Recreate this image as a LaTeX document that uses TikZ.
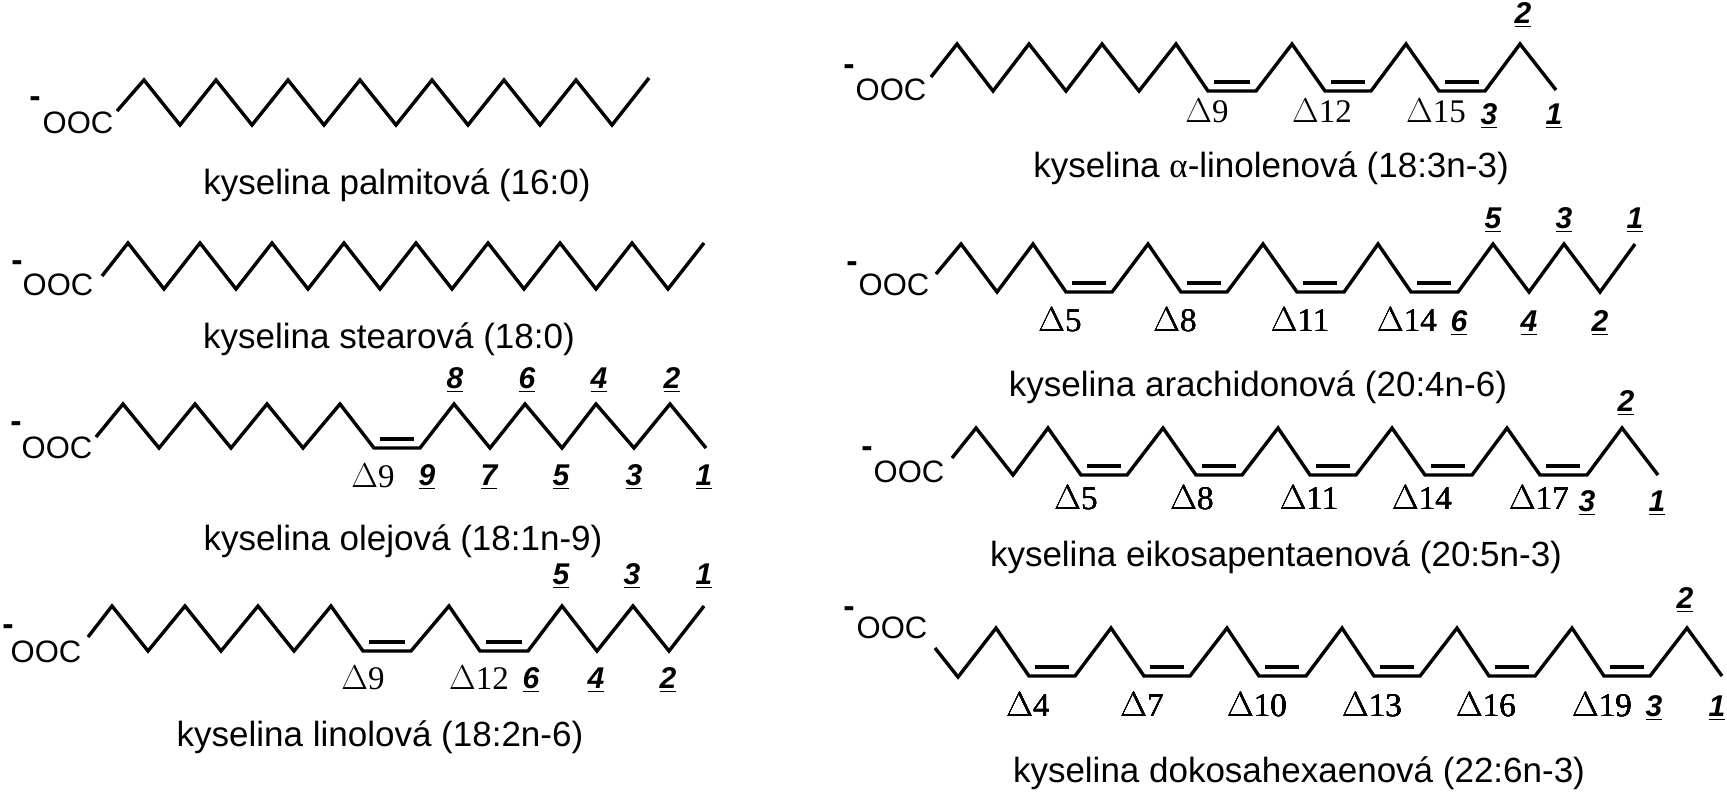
\documentclass[tikz,border=0pt]{standalone}
\usepackage{fontspec}
\setmainfont{Liberation Sans}
\newfontfamily\deltafont{Liberation Serif}
\usepackage{tikz}
\usetikzlibrary{positioning}

\tikzset{
  chain/.style={line width=1.7pt,line join=miter},
  title/.style={font=\fontsize{17.5}{20}\selectfont,inner sep=0pt},
  ooc/.style={font=\fontsize{15.5}{18}\selectfont,inner sep=0pt},
  minus/.style={font=\bfseries\fontsize{17}{18}\selectfont,inner sep=0pt},
  delta/.style={font=\deltafont\fontsize{16.5}{18}\selectfont,inner sep=0pt},
  num/.style={font=\bfseries\itshape\fontsize{15}{16}\selectfont,inner sep=0pt}
}
\newcommand{\dvojna}[3]{\draw[chain] ({#1+6},{#3-9}) -- ({#2-6},{#3-9});}
\newcommand{\cislo}[1]{\underline{#1}}

\begin{document}
\begin{tikzpicture}[x=0.5pt,y=-0.5pt]
		\useasboundingbox (0,0) rectangle (1727,800);

		%palmitova
		\node[minus] (m1) at (35,102) {-};
		\node[ooc] (o1) at (78,123) {OOC};
		\draw[chain] (117,111) \foreach \i in {0,...,6}{ -- ({144+72*\i},80) -- ({180+72*\i},125)} -- (649,78);
		\node[title] (t1) at (397,185) {kyselina palmitová (16:0)};

		%stearova
		\node[minus] (m2) at (17,266) {-};
		\node[ooc] (o2) at (58,285) {OOC};
		\draw[chain] (102,276) \foreach \i in {0,...,7}{ -- ({128+72*\i},243) -- ({164+72*\i},289)} -- (704,243);
		\node[title] (t2) at (389,339) {kyselina stearová (18:0)};

		%olejova
		\node[minus] (m3) at (16,427) {-};
		\node[ooc] (o3) at (57,448) {OOC};
		\draw[chain] (96,437) -- (123,404) -- (159,448) -- (195,404) -- (231,448) -- (267,404) -- (303,448) -- (340,404)
			-- (374,448) -- (420,448) -- (454,404) -- (490,448) -- (525,404) -- (562,448) -- (596,404) -- (634,448) -- (670,404) -- (706,448);
		\dvojna{374}{420}{448}
		\node[delta] (d3a) at (373,476) {$\Delta$9};
		\foreach \x/\t in {427/9,489/7,561/5,634/3,704/1}
			\node[num] (b3-\t) at (\x,477) {\cislo{\t}};
		\foreach \x/\t in {455/8,527/6,599/4,672/2}
			\node[num] (a3-\t) at (\x,380) {\cislo{\t}};
		\node[title] (t3) at (403,541) {kyselina olejová (18:1n-9)};

		%linolova
		\node[minus] (m4) at (8,630) {-};
		\node[ooc] (o4) at (46,652) {OOC};
		\draw[chain] (88,637) -- (112,606) -- (148,651) -- (185,606) -- (221,651) -- (258,606) -- (294,651) -- (331,606)
			-- (363,651) -- (411,651) -- (449,606) -- (480,651) -- (528,651) -- (562,606) -- (597,651) -- (633,606) -- (669,651) -- (704,606);
		\dvojna{363}{411}{651}
		\dvojna{480}{528}{651}
		\node[delta] (d4a) at (363,678) {$\Delta$9};
		\node[delta] (d4b) at (479,678) {$\Delta$12};
		\foreach \x/\t in {531/6,596/4,668/2}
			\node[num] (b4-\t) at (\x,680) {\cislo{\t}};
		\foreach \x/\t in {561/5,632/3,704/1}
			\node[num] (a4-\t) at (\x,576) {\cislo{\t}};
		\node[title] (t4) at (380,737) {kyselina linolová (18:2n-6)};

		%alfa-linolenova
		\node[minus] (m5) at (849,70) {-};
		\node[ooc] (o5) at (891,90) {OOC};
		\draw[chain] (931,77) -- (957,44) -- (993,91) -- (1029,44) -- (1066,91) -- (1102,44) -- (1139,91) -- (1176,44)
			-- (1208,91) -- (1256,91) -- (1292,44) -- (1325,91) -- (1371,91) -- (1406,44) -- (1439,91) -- (1485,91) -- (1520,44) -- (1556,90);
		\dvojna{1208}{1256}{91}
		\dvojna{1325}{1371}{91}
		\dvojna{1439}{1485}{91}
		\foreach \x/\t in {1207/9,1322/12,1436/15}
			\node[delta] (d5-\t) at (\x,111) {$\Delta$\t};
		\foreach \x/\t in {1489/3,1554/1}
			\node[num] (b5-\t) at (\x,116) {\cislo{\t}};
		\node[num] (a5-2) at (1523,15) {\cislo{2}};
		\node[title] (t5) at (1271,168) {kyselina {\deltafont α}-linolenová (18:3n-3)};

		%arachidonova
		\node[minus] (m6) at (852,267) {-};
		\node[ooc] (o6) at (894,285) {OOC};
		\draw[chain] (936,274) -- (961,244) -- (997,292) -- (1033,244) -- (1066,292) -- (1112,292) -- (1148,244) -- (1181,292) -- (1227,292)
			-- (1263,244) -- (1297,292) -- (1344,292) -- (1378,244) -- (1411,292) -- (1458,292) -- (1493,244) -- (1529,292) -- (1564,244) -- (1600,292) -- (1635,244);
		\foreach \x in {1066,1181,1297,1411}
			\dvojna{\x}{\x+46}{292}
		\foreach \x/\t in {1060/5,1175/8,1300/11,1407/14}
			\node[delta] (d6-\t) at (\x,320) {$\Delta$\t};
		\foreach \x/\t in {1459/6,1529/4,1600/2}
			\node[num] (b6-\t) at (\x,323) {\cislo{\t}};
		\foreach \x/\t in {1493/5,1564/3,1635/1}
			\node[num] (a6-\t) at (\x,220) {\cislo{\t}};
		\node[title] (t6) at (1258,387) {kyselina arachidonová (20:4n-6)};

		%eikosapentaenova
		\node[minus] (m7) at (867,452) {-};
		\node[ooc] (o7) at (909,472) {OOC};
		\draw[chain] (952,458) -- (976,428) -- (1013,475) -- (1048,428) -- (1081,475) -- (1127,475) -- (1163,428) -- (1196,475) -- (1242,475) -- (1278,428)
			-- (1310,475) -- (1356,475) -- (1392,428) -- (1425,475) -- (1472,475) -- (1507,428) -- (1540,475) -- (1587,475) -- (1622,428) -- (1658,475);
		\foreach \x in {1081,1196,1310,1425,1540}
			\dvojna{\x}{\x+46}{475}
		\foreach \x/\t in {1076/5,1192/8,1309/11,1422/14,1539/17}
			\node[delta] (d7-\t) at (\x,498) {$\Delta$\t};
		\foreach \x/\t in {1587/3,1657/1}
			\node[num] (b7-\t) at (\x,503) {\cislo{\t}};
		\node[num] (a7-2) at (1626,403) {\cislo{2}};
		\node[title] (t7) at (1276,557) {kyselina eikosapentaenová (20:5n-3)};

		%dokosahexaenova
		\node[minus] (m8) at (849,612) {-};
		\node[ooc] (o8) at (892,628) {OOC};
		\draw[chain] (935,648) -- (958,677) -- (996,628) -- (1029,676) -- (1075,676) -- (1111,628) -- (1144,676) -- (1190,676) -- (1227,628) -- (1259,676) -- (1306,676)
			-- (1342,628) -- (1374,676) -- (1420,676) -- (1457,628) -- (1489,676) -- (1535,676) -- (1572,628) -- (1604,676) -- (1650,676) -- (1687,628) -- (1722,676);
		\foreach \x in {1029,1144,1259,1374,1489,1604}
			\dvojna{\x}{\x+46}{676}
		\foreach \x/\t in {1028/4,1142/7,1257/10,1372/13,1486/16,1602/19}
			\node[delta] (d8-\t) at (\x,705) {$\Delta$\t};
		\foreach \x/\t in {1654/3,1717/1}
			\node[num] (b8-\t) at (\x,708) {\cislo{\t}};
		\node[num] (a8-2) at (1685,600) {\cislo{2}};
		\node[title] (t8) at (1299,773) {kyselina dokosahexaenová (22:6n-3)};
	\end{tikzpicture}
\end{document}
